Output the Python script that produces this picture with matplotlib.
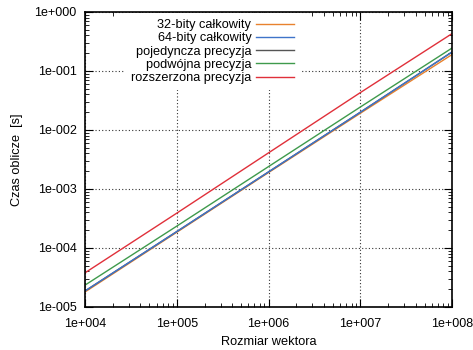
import numpy as np
import matplotlib.pyplot as plt
from matplotlib.ticker import LogLocator, FuncFormatter, NullFormatter

plt.rcParams['font.family'] = ['Liberation Sans', 'DejaVu Sans']

# Data
rozmiar = [1e4, 1e5, 1e6, 1e7, 1e8]
int32 = [1.80e-5, 1.85e-4, 1.90e-3, 1.92e-2, 0.19]
int64 = [1.87e-5, 1.90e-4, 1.95e-3, 2.00e-2, 0.21]
single = [1.87e-5, 1.90e-4, 1.95e-3, 2.00e-2, 0.21]
double = [2.35e-5, 2.35e-4, 2.40e-3, 2.45e-2, 0.245]
extended = [3.80e-5, 3.90e-4, 4.10e-3, 4.30e-2, 0.43]

labels = ['32-bity całkowity', '64-bity całkowity', 'pojedyncza precyzja',
          'podwójna precyzja', 'rozszerzona precyzja']
colors = ['#e8822e', '#3f74c9', '#555555', '#3f9a4c', '#e0303a']
zorders = [2.0, 2.2, 2.1, 2.3, 2.4]

fig = plt.figure(figsize=(4.73, 3.5), dpi=100)
ax = fig.add_axes([0.18, 0.123, 0.776, 0.843])

for ys, lab, c, z in zip([int32, int64, single, double, extended], labels, colors, zorders):
    ax.plot(rozmiar, ys, color=c, lw=1.0, label=lab, zorder=z)

ax.set_xscale('log')
ax.set_yscale('log')
ax.set_xlim(1e4, 1e8)
ax.set_ylim(1e-5, 1)

def fmt(v, pos):
    e = int(round(np.log10(v)))
    sign = '+' if e >= 0 else '-'
    return '1e%s%03d' % (sign, abs(e))

for axis in (ax.xaxis, ax.yaxis):
    axis.set_major_locator(LogLocator(base=10, numticks=10))
    axis.set_minor_locator(LogLocator(base=10, subs=np.arange(2, 10), numticks=10))
    axis.set_major_formatter(FuncFormatter(fmt))
    axis.set_minor_formatter(NullFormatter())

ax.tick_params(which='both', direction='in', top=True, right=True, labelsize=9)
ax.tick_params(which='major', length=6, width=0.8)
ax.tick_params(which='minor', length=3, width=0.6)
ax.tick_params(axis='x', which='major', pad=8)
ax.tick_params(axis='y', which='major', pad=6)
for s in ax.spines.values():
    s.set_linewidth(1.2)

ax.grid(True, which='major', linestyle=(0, (1, 2)), color='#333333', lw=0.8)
ax.set_axisbelow(True)

ax.set_xlabel('Rozmiar wektora', fontsize=9.2, labelpad=4)
ax.set_ylabel('Czas oblicze  [s]', fontsize=9.2, labelpad=8)

leg = ax.legend(loc='upper right', bbox_to_anchor=(0.585, 0.995), borderaxespad=0,
                markerfirst=False, frameon=True, fancybox=False, framealpha=1,
                edgecolor='none', fontsize=9.2, handlelength=3.0, handletextpad=0.35,
                labelspacing=0.1, borderpad=0.45)
leg.set_zorder(5)

fig.savefig('out.png', dpi=100)
